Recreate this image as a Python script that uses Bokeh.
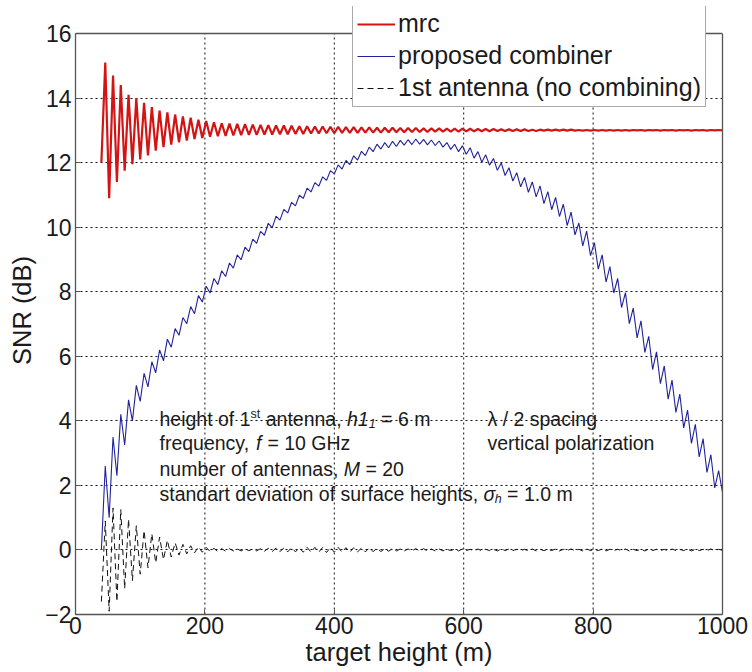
from bokeh.plotting import figure
from bokeh.models import Legend, LegendItem, Label, FixedTicker, Range1d, LinearAxis, Span
from bokeh.embed import file_html
from bokeh.resources import INLINE

# ---- data ----
target_height_m = [
    40, 46, 52, 58, 64, 70, 76, 82, 88, 94,
    100, 106, 112, 118, 124, 130, 136, 142, 148, 154,
    160, 166, 172, 178, 184, 190, 196, 202, 208, 214,
    220, 226, 232, 238, 244, 250, 256, 262, 268, 274,
    280, 286, 292, 298, 304, 310, 316, 322, 328, 334,
    340, 346, 352, 358, 364, 370, 376, 382, 388, 394,
    400, 406, 412, 418, 424, 430, 436, 442, 448, 454,
    460, 466, 472, 478, 484, 490, 496, 502, 508, 514,
    520, 526, 532, 538, 544, 550, 556, 562, 568, 574,
    580, 586, 592, 598, 604, 610, 616, 622, 628, 634,
    640, 646, 652, 658, 664, 670, 676, 682, 688, 694,
    700, 706, 712, 718, 724, 730, 736, 742, 748, 754,
    760, 766, 772, 778, 784, 790, 796, 802, 808, 814,
    820, 826, 832, 838, 844, 850, 856, 862, 868, 874,
    880, 886, 892, 898, 904, 910, 916, 922, 928, 934,
    940, 946, 952, 958, 964, 970, 976, 982, 988, 994,
    1000,
]

snr_mrc = [
    12.0, 15.1, 10.9, 14.7, 11.4, 14.4, 11.75, 14.1, 11.95, 14.0,
    12.1, 13.85, 12.22, 13.72, 12.37, 13.61, 12.48, 13.56, 12.56, 13.49,
    12.63, 13.43, 12.68, 13.39, 12.73, 13.33, 12.76, 13.29, 12.80, 13.25,
    12.82, 13.22, 12.83, 13.21, 12.84, 13.20, 12.85, 13.19, 12.86, 13.18,
    12.86, 13.17, 12.87, 13.16, 12.87, 13.15, 12.88, 13.15, 12.88, 13.14,
    12.89, 13.13, 12.89, 13.13, 12.90, 13.12, 12.90, 13.12, 12.91, 13.11,
    12.91, 13.11, 12.92, 13.10, 12.92, 13.10, 12.92, 13.09, 12.93, 13.09,
    12.93, 13.08, 12.93, 13.08, 12.94, 13.08, 12.94, 13.07, 12.94, 13.07,
    12.95, 13.07, 12.95, 13.06, 12.95, 13.06, 12.96, 13.06, 12.96, 13.05,
    12.96, 13.05, 12.96, 13.05, 12.97, 13.05, 12.97, 13.04, 12.97, 13.04,
    12.97, 13.04, 12.98, 13.03, 12.98, 13.03, 12.98, 13.03, 12.98, 13.03,
    12.98, 13.02, 12.98, 13.02, 12.99, 13.02, 12.99, 13.02, 12.99, 13.02,
    12.99, 13.02, 12.99, 13.01, 12.99, 13.01, 12.99, 13.01, 12.99, 13.01,
    12.99, 13.01, 12.99, 13.01, 12.99, 13.01, 12.99, 13.01, 13.00, 13.01,
    12.99, 13.01, 13.00, 13.01, 12.99, 13.01, 13.00, 13.01, 12.99, 13.01,
    13.00, 13.01, 12.99, 13.01, 13.00, 13.01, 12.99, 13.01, 13.00, 13.01,
    13.00,
]

snr_proposed = [
    0.0, 2.6, 1.0, 3.5, 2.3, 4.2, 3.25, 4.65, 4.0, 5.1,
    4.6, 5.47, 5.05, 5.83, 5.49, 6.2, 5.86, 6.53, 6.28, 6.86,
    6.65, 7.2, 7.01, 7.54, 7.32, 7.88, 7.68, 8.17, 7.96, 8.41,
    8.22, 8.65, 8.47, 8.89, 8.73, 9.14, 8.99, 9.38, 9.24, 9.63,
    9.5, 9.87, 9.75, 10.12, 9.98, 10.34, 10.22, 10.55, 10.44, 10.77,
    10.66, 10.99, 10.89, 11.21, 11.09, 11.38, 11.27, 11.56, 11.45, 11.75,
    11.65, 11.93, 11.8, 12.07, 11.94, 12.21, 12.08, 12.35, 12.22, 12.48,
    12.34, 12.57, 12.42, 12.62, 12.46, 12.66, 12.5, 12.69, 12.54, 12.71,
    12.56, 12.73, 12.57, 12.72, 12.55, 12.7, 12.53, 12.67, 12.48, 12.62,
    12.41, 12.57, 12.34, 12.52, 12.26, 12.46, 12.14, 12.34, 12.01, 12.24,
    11.92, 12.13, 11.76, 11.99, 11.6, 11.84, 11.43, 11.69, 11.25, 11.54,
    11.08, 11.4, 10.94, 11.28, 10.73, 11.1, 10.54, 10.92, 10.33, 10.71,
    10.05, 10.47, 9.76, 10.13, 9.42, 9.88, 9.12, 9.52, 8.7, 9.14,
    8.3, 8.78, 7.96, 8.41, 7.51, 7.97, 7.01, 7.49, 6.57, 7.1,
    6.12, 6.62, 5.59, 6.14, 5.15, 5.7, 4.67, 5.26, 4.26, 4.83,
    3.78, 4.33, 3.3, 3.89, 2.88, 3.45, 2.4, 2.95, 1.92, 2.46,
    1.78,
]

snr_first_antenna = [
    -1.6, 0.9, -1.9, 1.3, -1.6, 1.25, -1.2, 0.95, -0.95, 0.75,
    -0.75, 0.6, -0.55, 0.5, -0.4, 0.4, -0.3, 0.3, -0.22, 0.22,
    -0.16, 0.17, -0.12, 0.13, -0.09, 0.1, -0.07, 0.08, -0.05, 0.05,
    -0.05, 0.04, -0.04, 0.04, -0.03, 0.03, -0.03, 0.03, -0.02, 0.03,
    -0.03, 0.04, -0.04, 0.05, -0.05, 0.06, -0.05, 0.06, -0.06, 0.07,
    -0.06, 0.07, -0.07, 0.08, -0.07, 0.08, -0.07, 0.08, -0.08, 0.08,
    -0.07, 0.08, -0.07, 0.07, -0.07, 0.07, -0.06, 0.06, -0.06, 0.06,
    -0.05, 0.05, -0.05, 0.04, -0.04, 0.04, -0.03, 0.03, -0.03, 0.03,
    -0.03, 0.04, -0.04, 0.04, -0.04, 0.03, -0.03, 0.03, -0.03, 0.02,
    -0.02, 0.03, -0.03, 0.03, -0.02, 0.02, -0.03, 0.03, -0.03, 0.02,
    -0.02, 0.02, -0.03, 0.03, -0.02, 0.03, -0.02, 0.02, -0.02, 0.02,
    -0.03, 0.03, -0.03, 0.02, -0.02, 0.02, -0.02, 0.03, -0.03, 0.02,
    -0.02, 0.03, -0.02, 0.02, -0.03, 0.03, -0.02, 0.02, -0.02, 0.03,
    -0.03, 0.02, -0.02, 0.02, -0.02, 0.03, -0.03, 0.02, -0.02, 0.02,
    -0.03, 0.03, -0.02, 0.02, -0.02, 0.02, -0.03, 0.03, -0.02, 0.02,
    -0.02, 0.03, -0.03, 0.02, -0.02, 0.02, -0.02, 0.03, -0.02, 0.02,
    -0.01,
]

x_ticks = [0, 200, 400, 600, 800, 1000]
y_ticks = [-2, 0, 2, 4, 6, 8, 10, 12, 14, 16]
x_limits = (0, 1000)
y_limits = (-2, 16)
legend_labels = ["mrc", "proposed combiner", "1st antenna (no combining)"]

FONT = "Liberation Sans"
AXC = "#555555"
GRIDC = "#111111"

# The frame reaches 27 px above the y=16 line so that the legend can sit
# partly above the axes box, as in the reference; the box itself is drawn
# by bounded axes plus a span at the top.
px_per_unit = 581.0 / (y_limits[1] - y_limits[0])
y_top = y_limits[1] + 27.0 / px_per_unit

p = figure(width=752, height=672, output_backend="svg", toolbar_location=None,
           x_range=Range1d(*x_limits), y_range=Range1d(y_limits[0], y_top),
           min_border_left=75, min_border_right=30, min_border_top=6,
           min_border_bottom=58, background_fill_color="white",
           border_fill_color="white")
p.outline_line_color = None

for ax in (p.xaxis[0], p.yaxis[0]):
    ax.major_label_text_font = FONT
    ax.major_label_text_font_size = "23px"
    ax.major_label_text_color = "#1a1a1a"
    ax.axis_label_text_font = FONT
    ax.axis_label_text_font_size = "25.5px"
    ax.axis_label_text_font_style = "normal"
    ax.axis_label_text_color = "#1a1a1a"
    ax.axis_line_color = AXC
    ax.axis_line_width = 1.3
    ax.major_tick_in = 5
    ax.major_tick_out = 0
    ax.major_tick_line_color = AXC
    ax.minor_tick_line_color = None
    ax.major_label_standoff = 4
    ax.axis_label_standoff = 4

p.xaxis[0].ticker = FixedTicker(ticks=x_ticks)
p.yaxis[0].ticker = FixedTicker(ticks=y_ticks)
p.yaxis[0].bounds = y_limits
p.xaxis[0].axis_label = "target height (m)"
p.yaxis[0].axis_label = "SNR (dB)"
p.xaxis[0].major_label_standoff = 2
p.xaxis[0].axis_label_standoff = 1
p.yaxis[0].axis_label_standoff = 6

right_axis = LinearAxis(ticker=FixedTicker(ticks=[]), bounds=y_limits,
                        axis_line_color=AXC, axis_line_width=1.3,
                        major_tick_line_color=None, minor_tick_line_color=None)
p.add_layout(right_axis, "right")
p.add_layout(Span(location=y_limits[1], dimension="width",
                  line_color=AXC, line_width=1.3))

# grid
p.xgrid[0].visible = False
p.ygrid[0].grid_line_color = GRIDC
p.ygrid[0].grid_line_dash = "2 3"
p.ygrid[0].grid_line_width = 1
p.ygrid[0].grid_line_alpha = 1
p.ygrid[0].ticker = FixedTicker(ticks=y_ticks[1:-1])
p.segment(x0=x_ticks[1:-1], y0=[y_limits[0]] * 4, x1=x_ticks[1:-1],
          y1=[y_limits[1]] * 4, line_color=GRIDC, line_dash="2 3",
          line_width=1, line_alpha=1, level="underlay")

r_black = p.line(target_height_m, snr_first_antenna, line_color="#111111",
                 line_width=1, line_dash="6 4")
r_blue = p.line(target_height_m, snr_proposed, line_color="#22229a", line_width=1.1)
r_red = p.line(target_height_m, snr_mrc, line_color="#d41414", line_width=2.2)

legend = Legend(items=[
    LegendItem(label=legend_labels[0], renderers=[r_red]),
    LegendItem(label=legend_labels[1], renderers=[r_blue]),
    LegendItem(label=legend_labels[2], renderers=[r_black]),
])
legend.location = (277, 507)
legend.label_text_font = FONT
legend.label_text_font_size = "25px"
legend.label_text_color = "#1a1a1a"
legend.label_height = 28
legend.glyph_height = 28
legend.glyph_width = 38
legend.label_standoff = 3
legend.padding = 4
legend.spacing = 3
legend.margin = 0
legend.border_line_color = AXC
legend.border_line_width = 1.3
legend.background_fill_color = "white"
legend.background_fill_alpha = 1
p.add_layout(legend)

# ---- annotation text (composed of pieces for italics / sub- and superscripts) ----
TXT = "#1a1a1a"
NB = "\u00a0"


def piece(x, y, text, off, size="19.5px", style="normal", dy=0):
    p.add_layout(Label(x=x, y=y, text=text, x_offset=off, y_offset=dy,
                       text_font=FONT, text_font_size=size, text_font_style=style,
                       text_color=TXT, text_baseline="middle", text_align="left"))


lx = 129.8
piece(lx, 4.07, "height of 1", 0)
piece(lx, 4.07, "st", 91.1, size="12.5px", dy=5)
piece(lx, 4.07, NB + "antenna," + NB, 100.8)
piece(lx, 4.07, "h1", 187.5, style="italic")
piece(lx, 4.07, "1", 209.2, size="12.5px", style="italic", dy=-5)
piece(lx, 4.07, NB + "= 6 m", 216.2)

piece(lx, 3.30, "frequency," + NB, 0)
piece(lx, 3.30, "f", 96.5, style="italic")
piece(lx, 3.30, NB + "= 10 GHz", 102.5)

piece(lx, 2.52, "number of antennas," + NB, 0)
piece(lx, 2.52, "M", 184.3, style="italic")
piece(lx, 2.52, NB + "= 20", 200.5)

piece(lx, 1.72, "standart deviation of surface heights," + NB, 0)
piece(lx, 1.72, "σ", 324.1, style="italic")
piece(lx, 1.72, "h", 335.2, size="12.5px", style="italic", dy=-5)
piece(lx, 1.72, NB + "= 1.0 m", 342.2)

rx = 636.8
piece(rx, 4.07, "λ / 2 spacing", 0)
piece(rx, 3.30, "vertical polarization", 0)

open("out.html", "w").write(file_html(p, INLINE))
